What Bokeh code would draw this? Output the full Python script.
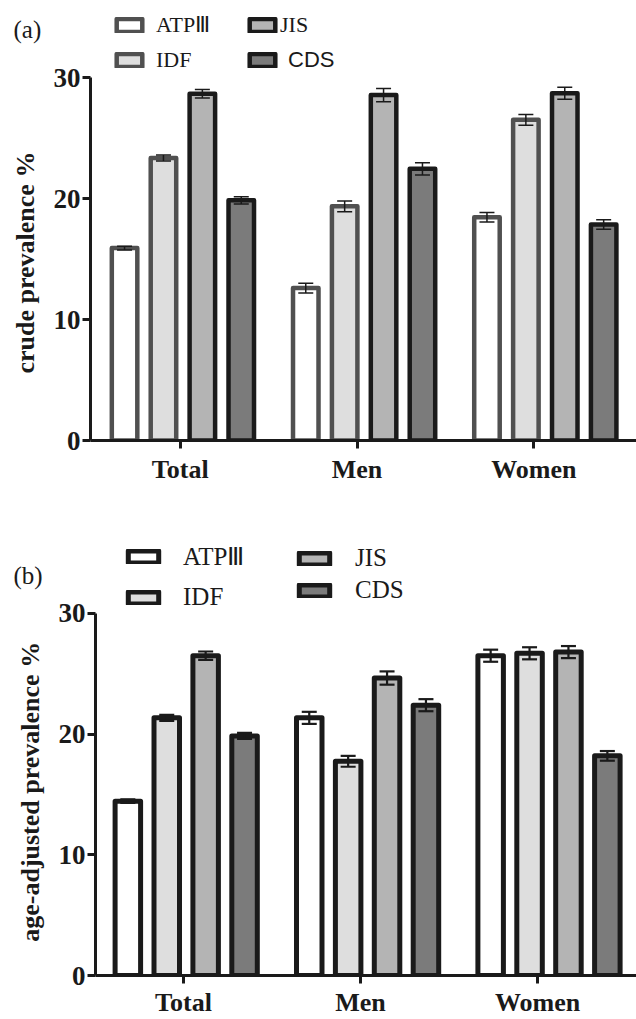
import math
from bokeh.plotting import figure
from bokeh.models import ColumnDataSource, Whisker, TeeHead, Legend, LegendItem, FixedTicker
from bokeh.core.properties import value
from bokeh.layouts import column, row
from bokeh.embed import file_html
from bokeh.resources import INLINE

groups = ["Total", "Men", "Women"]
criteria = ["ATPⅢ", "IDF", "JIS", "CDS"]

crude_atp3 = [15.9, 12.6, 18.45]
crude_idf = [23.35, 19.35, 26.5]
crude_jis = [28.65, 28.55, 28.7]
crude_cds = [19.85, 22.45, 17.85]
crude_atp3_err = [0.15, 0.4, 0.4]
crude_idf_err = [0.25, 0.45, 0.45]
crude_jis_err = [0.35, 0.55, 0.5]
crude_cds_err = [0.3, 0.5, 0.4]

adj_atp3 = [14.45, 21.35, 26.5]
adj_idf = [21.35, 17.75, 26.7]
adj_jis = [26.5, 24.65, 26.8]
adj_cds = [19.85, 22.4, 18.2]
adj_atp3_err = [0.15, 0.5, 0.5]
adj_idf_err = [0.25, 0.45, 0.5]
adj_jis_err = [0.35, 0.55, 0.5]
adj_cds_err = [0.25, 0.5, 0.4]

y_ticks = [0, 10, 20, 30]

INK = "#1a1a1a"
GREY_LINE = "#505050"
FILLS = ["#ffffff", "#dedede", "#b4b4b4", "#7b7b7b"]
SERIF = "Liberation Serif"
SANS = "Liberation Sans"
LEFT_W = 50
TICK_STEP, TICK_SHIFT = 0.976, -0.015   # category ticks sit slightly off the bar groups


def side_strip(ylabel, tag, cfg):
    """Narrow strip left of the axis holding the panel tag and the y-axis title."""
    H = cfg["height"]
    fb = cfg["frame_bottom"]
    s = figure(width=LEFT_W, height=H, x_range=(0, LEFT_W), y_range=(fb, 0),
               output_backend="svg", toolbar_location=None,
               x_axis_type=None, y_axis_type=None, min_border=0)
    s.outline_line_color = None
    s.xgrid.visible = False
    s.ygrid.visible = False
    s.text(x=[13], y=[cfg["tag_cy"]], text=[tag], text_font=value(SERIF),
           text_font_size="25px", text_color=INK, text_align="left",
           text_baseline="middle")
    # title reads bottom-to-top, anchored at its first letter
    s.text(x=[cfg["ylab_x"]], y=[cfg["ylab_start"]], text=[ylabel], angle=math.pi / 2,
           text_font=value(SERIF), text_font_style="bold", text_font_size="26px",
           text_color=INK, text_align="left", text_baseline="middle")
    return s


def make_panel(series, errs, line_colors, legend_fonts, cfg):
    W = 636 - LEFT_W
    fl = cfg["frame_left"]          # frame left edge on the page
    H = cfg["height"]
    bb = cfg["border_bottom"]
    fh = H - bb
    px_per_y = cfg["px_per_y"]
    unit = cfg["unit"]
    x0 = cfg["x_start"]
    x1 = x0 + (636 - fl) / unit
    y1 = fh / px_per_y
    p = figure(width=W, height=H, x_range=(x0, x1), y_range=(0, y1),
               output_backend="svg", toolbar_location=None,
               min_border_left=fl - LEFT_W, min_border_right=0, min_border_top=0,
               min_border_bottom=bb)
    p.outline_line_color = None
    p.xgrid.visible = False
    p.ygrid.visible = False

    spacing = 38.9 / unit
    bw = cfg["bar_px"] / unit
    offsets = [-1.5 * spacing, -0.5 * spacing, 0.5 * spacing, 1.5 * spacing]
    renderers = []
    for k in range(4):
        xs = [g + offsets[k] for g in range(len(groups))]
        src = ColumnDataSource(dict(x=xs, top=series[k],
                                    upper=[v + e for v, e in zip(series[k], errs[k])],
                                    lower=[v - e for v, e in zip(series[k], errs[k])]))
        r = p.vbar(x="x", top="top", bottom=0, width=bw, source=src,
                   fill_color=FILLS[k], line_color=line_colors[k],
                   line_width=cfg["bar_lw"], line_join="round")
        renderers.append(r)
        wl = cfg["err_lw"]
        w = Whisker(base="x", upper="upper", lower="lower", source=src,
                    line_color=INK, line_width=wl, level="overlay",
                    upper_head=TeeHead(size=cfg["cap"], line_color=INK, line_width=wl),
                    lower_head=TeeHead(size=cfg["cap"], line_color=INK, line_width=wl))
        p.add_layout(w)

    for k in range(4):
        lx, cy, stand = cfg["leg_pos"][k]
        Hitem = cfg["leg_item_h"]
        ly = cfg["frame_bottom"] - cy - Hitem / 2
        leg = Legend(items=[LegendItem(label=criteria[k], renderers=[renderers[k]], index=0)],
                     location=(int(round(lx - fl)), int(round(ly))),
                     glyph_width=cfg["gw"], glyph_height=cfg["gh"],
                     label_height=Hitem, label_width=10,
                     label_text_font=legend_fonts[k], label_text_font_size=cfg["leg_fs"],
                     label_text_color=INK, label_standoff=int(round(stand)),
                     padding=0, margin=0, spacing=0,
                     background_fill_alpha=0, border_line_alpha=0)
        p.add_layout(leg)

    p.yaxis.ticker = FixedTicker(ticks=y_ticks)
    p.yaxis.bounds = (0, 30)
    xticks = [round(i * TICK_STEP + TICK_SHIFT, 3) for i in range(len(groups))]
    p.xaxis.ticker = FixedTicker(ticks=xticks)
    p.xaxis.major_label_overrides = {t: g for t, g in zip(xticks, groups)}
    for ax in (p.xaxis, p.yaxis):
        ax.axis_line_width = 3
        ax.axis_line_color = INK
        ax.major_tick_line_width = 3
        ax.major_tick_line_color = INK
        ax.major_tick_in = 0
        ax.major_tick_out = 8
        ax.minor_tick_line_color = None
        ax.major_label_text_font = SERIF
        ax.major_label_text_font_style = "bold"
        ax.major_label_text_color = INK
    p.xaxis.major_label_text_font_size = "26px"
    p.yaxis.major_label_text_font_size = "27px"
    p.yaxis.major_label_standoff = 2
    p.xaxis.major_label_standoff = cfg["xlab_standoff"]
    return p


cfg_a = dict(frame_left=90, height=490, border_bottom=50, px_per_y=12.1, unit=181.2,
             x_start=-0.51, bar_px=25.5, bar_lw=4.5, err_lw=1.5, cap=15,
             gw=32, gh=16, leg_item_h=28, leg_fs="22px", frame_bottom=440,
             leg_pos=[(113, 25, 11), (113, 60, 11), (246, 25, 2), (246, 60, 10)],
             xlab_standoff=6, tag_cy=29, ylab_x=25, ylab_start=373)
cfg_b = dict(frame_left=95, height=529, border_bottom=40, px_per_y=12.167, unit=181.4,
             x_start=-0.50, bar_px=25.5, bar_lw=5, err_lw=2.2, cap=15,
             gw=38, gh=15, leg_item_h=30, leg_fs="25px", frame_bottom=489,
             leg_pos=[(124, 70, 21), (124, 111, 21), (295, 71.5, 22), (295, 104, 22)],
             xlab_standoff=4, tag_cy=86, ylab_x=30, ylab_start=455)

pa = make_panel([crude_atp3, crude_idf, crude_jis, crude_cds],
                [crude_atp3_err, crude_idf_err, crude_jis_err, crude_cds_err],
                [GREY_LINE, GREY_LINE, INK, INK], [SERIF, SERIF, SERIF, SANS], cfg_a)
pb = make_panel([adj_atp3, adj_idf, adj_jis, adj_cds],
                [adj_atp3_err, adj_idf_err, adj_jis_err, adj_cds_err],
                [INK, INK, INK, INK], [SERIF, SERIF, SERIF, SERIF], cfg_b)
sa = side_strip("crude prevalence %", "(a)", cfg_a)
sb = side_strip("age-adjusted prevalence %", "(b)", cfg_b)

layout = column(row(sa, pa, spacing=0), row(sb, pb, spacing=0), spacing=0)
open("out.html", "w").write(file_html(layout, INLINE))
